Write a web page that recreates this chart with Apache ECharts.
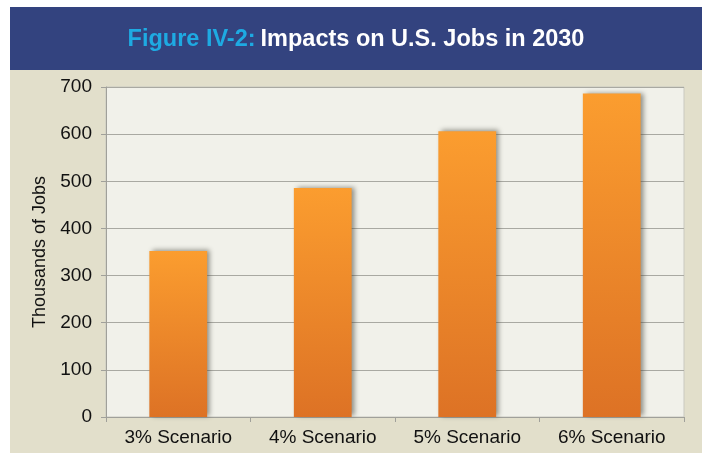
<!DOCTYPE html>
<html>
<head>
<meta charset="utf-8">
<script src="https://cdn.jsdelivr.net/npm/echarts@6/dist/echarts.min.js"></script>
<style>
  html, body { margin: 0; padding: 0; background: #fff; }
  #chart { width: 702px; height: 453px; }
</style>
</head>
<body>
<div id="chart"></div>
<script>
const categories = ['3% Scenario', '4% Scenario', '5% Scenario', '6% Scenario'];
const jobs = [352, 486, 606, 686]; // thousands of jobs
const yTicks = [0, 100, 200, 300, 400, 500, 600, 700];

const chart = echarts.init(document.getElementById('chart'));

const option = {
  backgroundColor: '#ffffff',
  animation: false,
  graphic: [
    // beige panel
    { type: 'rect', z: -10, shape: { x: 10, y: 70, width: 692, height: 383 }, style: { fill: '#e2dfcb' } },
    // header band
    { type: 'rect', z: -10, shape: { x: 10, y: 7, width: 692, height: 63 }, style: { fill: '#33437f' } },
    // plot area background
    { type: 'rect', z: -5, shape: { x: 106, y: 87, width: 578, height: 330 }, style: { fill: '#f1f1ea', stroke: '#c9c9c0', lineWidth: 1 } }
  ],
  title: {
    text: '{a|Figure IV-2:} {b|Impacts on U.S. Jobs in 2030}',
    left: 351,
    textAlign: 'center',
    top: 23,
    textStyle: {
      rich: {
        a: { color: '#1eaae2', fontSize: 23.5, fontWeight: 'bold', fontFamily: 'Liberation Sans, Arial, sans-serif' },
        b: { color: '#ffffff', fontSize: 23.5, fontWeight: 'bold', fontFamily: 'Liberation Sans, Arial, sans-serif' }
      }
    }
  },
  grid: { left: 106, right: 18, top: 87, bottom: 36 },
  xAxis: {
    type: 'category',
    data: categories,
    axisLine: { lineStyle: { color: '#a0a09a', width: 1 } },
    axisTick: { show: true, alignWithLabel: false, length: 5, lineStyle: { color: '#a0a09a' } },
    axisLabel: { color: '#111111', fontSize: 19, fontFamily: 'Liberation Sans, Arial, sans-serif', margin: 11 }
  },
  yAxis: {
    type: 'value',
    min: yTicks[0],
    max: yTicks[yTicks.length - 1],
    interval: 100,
    name: 'Thousands of Jobs',
    nameLocation: 'middle',
    nameGap: 52,
    nameTextStyle: { color: '#111111', fontSize: 18, fontFamily: 'Liberation Sans, Arial, sans-serif' },
    axisLine: { show: true, lineStyle: { color: '#a0a09a' } },
    axisTick: { show: true, length: 5, lineStyle: { color: '#a0a09a' } },
    axisLabel: { color: '#111111', fontSize: 19, fontFamily: 'Liberation Sans, Arial, sans-serif', margin: 14 },
    splitLine: { lineStyle: { color: '#a9a9a2', width: 1 } }
  },
  series: [{
    type: 'bar',
    data: jobs,
    barWidth: '40%',
    itemStyle: {
      color: new echarts.graphic.LinearGradient(0, 0, 0, 1, [
        { offset: 0, color: '#fb9d2f' },
        { offset: 1, color: '#dd7225' }
      ]),
      shadowColor: 'rgba(60,60,50,0.55)',
      shadowBlur: 5,
      shadowOffsetX: 3,
      shadowOffsetY: -1
    }
  }]
};

chart.setOption(option);
</script>
</body>
</html>
